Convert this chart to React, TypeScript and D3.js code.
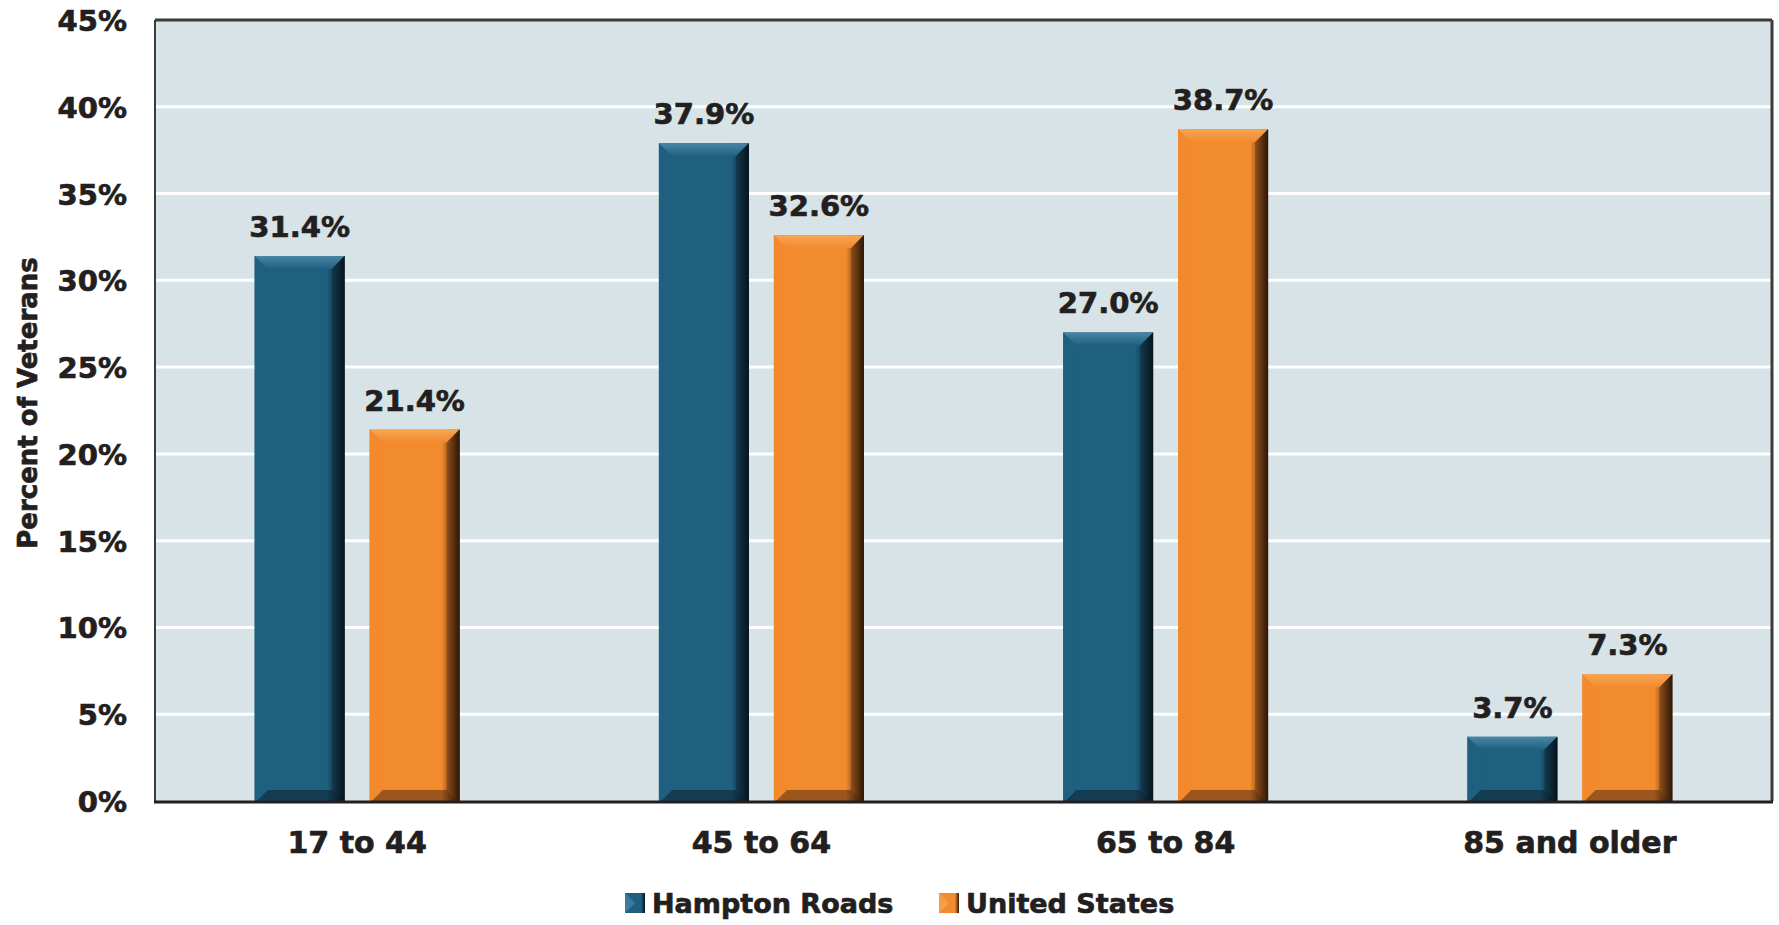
import React from "react";
import * as d3 from "d3";

const categories = ["17 to 44", "45 to 64", "65 to 84", "85 and older"];
const seriesNames = ["Hampton Roads", "United States"];
const hamptonRoads = [31.4, 37.9, 27.0, 3.7];
const unitedStates = [21.4, 32.6, 38.7, 7.3];
const yTicks = [0, 5, 10, 15, 20, 25, 30, 35, 40, 45];
const seriesColors = ["#1f6081", "#f28a2e"];
const darkColors = ["#06141d", "#2e1606"];
const lightColors = ["#4a86a6", "#f8a553"];

const W = 1779;
const H = 925;
const FONT = "'DejaVu Sans', Lato, sans-serif";
const INK = "#231f20";

export default function App() {
  const left = 155, right = 1772, top = 20, bottom = 801;
  const x0 = d3.scaleBand<string>().domain(categories).range([left, right]).padding(0);
  const bw = x0.bandwidth();
  const groupW = bw * 0.507;
  const x1 = d3
    .scaleBand<string>()
    .domain(seriesNames)
    .range([(bw - groupW) / 2, (bw + groupW) / 2])
    .paddingInner(0.2174);
  const y = d3.scaleLinear().domain([0, 45]).range([bottom, top]);
  const values = [hamptonRoads, unitedStates];
  const barW = x1.bandwidth();
  const textProps = { fontFamily: FONT, fontWeight: 700, fill: INK, stroke: INK, strokeWidth: 0.7 };

  const bars: any[] = [];
  categories.forEach((c, ci) => {
    seriesNames.forEach((s, si) => {
      const v = values[si][ci];
      const bx = (x0(c) as number) + (x1(s) as number);
      const by = y(v);
      const bh = bottom + 2 - by;
      const bev = Math.min(13, bh / 3);
      bars.push(
        <g key={c + s}>
          <rect x={bx} y={by} width={barW} height={bh} fill={`url(#body${si})`} />
          <polygon
            points={`${bx},${by} ${bx + barW},${by} ${bx + barW - bev},${by + bev} ${bx + bev},${by + bev}`}
            fill={`url(#top${si})`}
          />
          <polygon
            points={`${bx + barW},${by} ${bx + barW},${by + bh} ${bx + barW - bev},${by + bh - bev} ${bx + barW - bev},${by + bev}`}
            fill={`url(#right${si})`}
          />
          <polygon
            points={`${bx},${by + bh} ${bx + barW},${by + bh} ${bx + barW - bev},${by + bh - bev} ${bx + bev},${by + bh - bev}`}
            fill={darkColors[si]}
            opacity={0.45}
          />
          <polygon
            points={`${bx},${by} ${bx + bev},${by + bev} ${bx + bev},${by + bh - bev} ${bx},${by + bh}`}
            fill={seriesColors[si]}
            opacity={0.9}
          />
          <line x1={bx} x2={bx + barW} y1={by + bh - 1} y2={by + bh - 1} stroke={lightColors[si]} strokeWidth={2} />
          <text x={bx + barW / 2} y={by - 19} textAnchor="middle" fontSize={29} {...textProps}>
            {v.toFixed(1) + "%"}
          </text>
        </g>
      );
    });
  });

  return (
    <svg width={W} height={H} style={{ position: "fixed", left: 0, top: 0, background: "#fff" }}>
      <defs>
        {seriesColors.map((col, i) => (
          <React.Fragment key={i}>
            <linearGradient id={`body${i}`} x1="0" x2="1" y1="0" y2="0">
              <stop offset="0" stopColor={col} />
              <stop offset="0.8" stopColor={col} />
              <stop offset="1" stopColor={darkColors[i]} />
            </linearGradient>
            <linearGradient id={`top${i}`} x1="0" x2="0" y1="0" y2="1">
              <stop offset="0" stopColor={lightColors[i]} />
              <stop offset="1" stopColor={col} />
            </linearGradient>
            <linearGradient id={`right${i}`} x1="0" x2="1" y1="0" y2="0">
              <stop offset="0" stopColor={d3.interpolateRgb(col, darkColors[i])(0.5)} />
              <stop offset="1" stopColor={darkColors[i]} />
            </linearGradient>
          </React.Fragment>
        ))}
      </defs>
      <rect x={left} y={top} width={right - left} height={bottom - top} fill="#d7e3e6" />
      {yTicks.slice(1, -1).map((t) => (
        <line key={t} x1={left} x2={right} y1={y(t)} y2={y(t)} stroke="#ffffff" strokeWidth={3} />
      ))}
      <line x1={left} x2={right} y1={top} y2={top} stroke="#3a3a3c" strokeWidth={3} />
      <line x1={right} x2={right} y1={top} y2={bottom} stroke="#3a3a3c" strokeWidth={3} />
      <line x1={left} x2={left} y1={top} y2={bottom} stroke="#3a3a3c" strokeWidth={2} />
      {bars}
      <line x1={left - 1} x2={right + 1} y1={bottom + 1} y2={bottom + 1} stroke={INK} strokeWidth={3} />
      {yTicks.map((t) => (
        <text key={t} x={127} y={y(t) + 11} textAnchor="end" fontSize={29} {...textProps}>
          {t + "%"}
        </text>
      ))}
      {categories.map((c) => (
        <text key={c} x={(x0(c) as number) + bw / 2} y={853} textAnchor="middle" fontSize={30} {...textProps}>
          {c}
        </text>
      ))}
      <text transform={`translate(37,403) rotate(-90)`} textAnchor="middle" fontSize={26} {...textProps}>
        Percent of Veterans
      </text>
      {seriesNames.map((s, i) => {
        const lx = i === 0 ? 625 : 939;
        return (
          <g key={s}>
            <rect x={lx} y={893} width={20} height={20} fill={`url(#body${i})`} />
            <polygon points={`${lx},${893} ${lx + 10},${903} ${lx},${913}`} fill={lightColors[i]} opacity={0.7} />
            <text x={lx + 27} y={913} fontSize={27} {...textProps}>
              {s}
            </text>
          </g>
        );
      })}
    </svg>
  );
}
